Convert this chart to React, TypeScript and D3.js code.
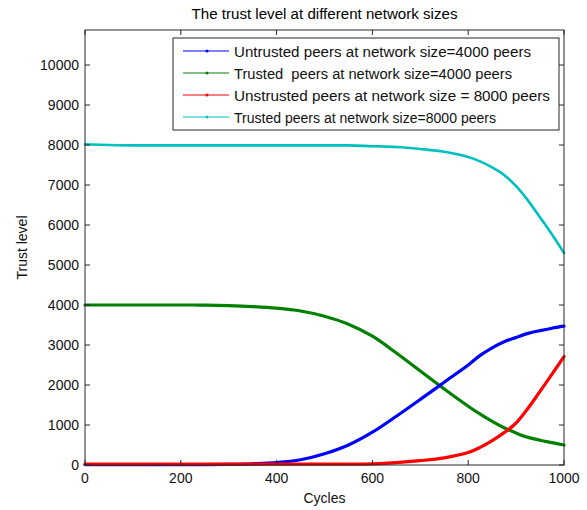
import React from 'react';
import * as d3 from 'd3';

// cycle positions shared by all series (denser near the end where curves bend)
const cycles = [0, 50, 100, 150, 200, 250, 300, 350, 400, 450, 500, 550, 600, 650, 700, 750, 800, 825, 850, 875, 900, 925, 950, 975, 1000];

const untrusted4000 = [10, 10, 10, 10, 10, 10, 15, 30, 60, 130, 280, 500, 820, 1220, 1640, 2070, 2500, 2740, 2930, 3080, 3190, 3290, 3360, 3420, 3470];
const trusted4000 = [4000, 4000, 4000, 4000, 4000, 3998, 3985, 3960, 3920, 3850, 3720, 3520, 3220, 2800, 2350, 1900, 1470, 1270, 1090, 930, 800, 690, 620, 560, 500];
const untrusted8000 = [20, 20, 20, 25, 20, 20, 20, 20, 20, 20, 20, 22, 30, 60, 110, 180, 310, 440, 610, 810, 1050, 1420, 1840, 2270, 2710];
const trusted8000 = [8020, 8000, 7990, 7990, 7990, 7990, 7990, 7990, 7990, 7990, 7990, 7990, 7970, 7950, 7900, 7830, 7700, 7590, 7440, 7250, 6970, 6610, 6190, 5760, 5300];

const legendLabels = [
  'Untrusted peers at network size=4000 peers',
  'Trusted  peers at network size=4000 peers',
  'Unstrusted peers at network size = 8000 peers',
  'Trusted peers at network size=8000 peers',
];
const seriesColors = ['#0000ff', '#008000', '#ff0000', '#00bfbf'];
const seriesValues = [untrusted4000, trusted4000, untrusted8000, trusted8000];

const xTicks = [0, 200, 400, 600, 800, 1000];
const yTicks = [0, 1000, 2000, 3000, 4000, 5000, 6000, 7000, 8000, 9000, 10000];

const W = 587;
const H = 510;
const left = 85, right = 564, top = 30, bottom = 465;

export default function App() {
  const x = d3.scaleLinear().domain([0, 1000]).range([left, right]);
  const y = d3.scaleLinear().domain([0, 10875]).range([bottom, top]);

  const line = d3.line<number>()
    .x((_, i) => x(cycles[i]))
    .y(d => y(d))
    .curve(d3.curveCatmullRom.alpha(0.5));

  const font = '"Liberation Sans", Arial, sans-serif';
  const axisColor = '#262626';

  // drawing order: cyan, green, blue, red on top
  const order = [3, 1, 0, 2];

  const legLeft = 173, legTop = 38, legRight = 559, legBottom = 130;
  const rowY = [51, 73, 95, 117];

  return (
    <svg width={W} height={H} style={{ position: 'absolute', left: 0, top: 0, background: '#fff' }}
      fontFamily={font}>
      <rect x={0} y={0} width={W} height={H} fill="#fff" />

      <text x={(left + right) / 2} y={19} textAnchor="middle" fontSize={14}
        textLength={266} lengthAdjust="spacingAndGlyphs" fill="#000">
        The trust level at different network sizes
      </text>

      {/* data lines */}
      {order.map(i => (
        <path key={i} d={line(seriesValues[i]) || ''} fill="none"
          stroke={seriesColors[i]} strokeWidth={i === 3 ? 2.6 : 3.2}
          strokeLinejoin="round" strokeLinecap="round" />
      ))}

      {/* axes box */}
      <rect x={left} y={top} width={right - left} height={bottom - top}
        fill="none" stroke={axisColor} strokeWidth={1} />

      {xTicks.map(t => (
        <g key={'x' + t}>
          <line x1={x(t)} x2={x(t)} y1={bottom} y2={bottom - 5} stroke={axisColor} />
          <line x1={x(t)} x2={x(t)} y1={top} y2={top + 5} stroke={axisColor} />
          <text x={x(t)} y={483} textAnchor="middle" fontSize={14} fill="#111">{t}</text>
        </g>
      ))}
      {yTicks.map(t => (
        <g key={'y' + t}>
          <line x1={left} x2={left + 5} y1={y(t)} y2={y(t)} stroke={axisColor} />
          <line x1={right} x2={right - 5} y1={y(t)} y2={y(t)} stroke={axisColor} />
          <text x={79} y={y(t) + 5} textAnchor="end" fontSize={14} fill="#111">{t}</text>
        </g>
      ))}

      <text x={(left + right) / 2} y={503} textAnchor="middle" fontSize={14} fill="#111">Cycles</text>
      <text transform={`translate(27,${(top + bottom) / 2}) rotate(-90)`} textAnchor="middle"
        fontSize={14} fill="#111">Trust level</text>

      {/* legend */}
      <rect x={legLeft} y={legTop} width={legRight - legLeft} height={legBottom - legTop}
        fill="#fff" stroke={axisColor} strokeWidth={1} />
      {legendLabels.map((lab, i) => (
        <g key={lab}>
          <line x1={183} x2={229} y1={rowY[i]} y2={rowY[i]} stroke={seriesColors[i]} strokeWidth={1} />
          <circle cx={207} cy={rowY[i]} r={1.5} fill={seriesColors[i]} />
          <text x={234} y={rowY[i] + 5.5} fontSize={15.5} fill="#111" style={{ whiteSpace: 'pre' }}
            textLength={[297, 278, 316, 262][i]} lengthAdjust="spacingAndGlyphs">{lab}</text>
        </g>
      ))}
    </svg>
  );
}
